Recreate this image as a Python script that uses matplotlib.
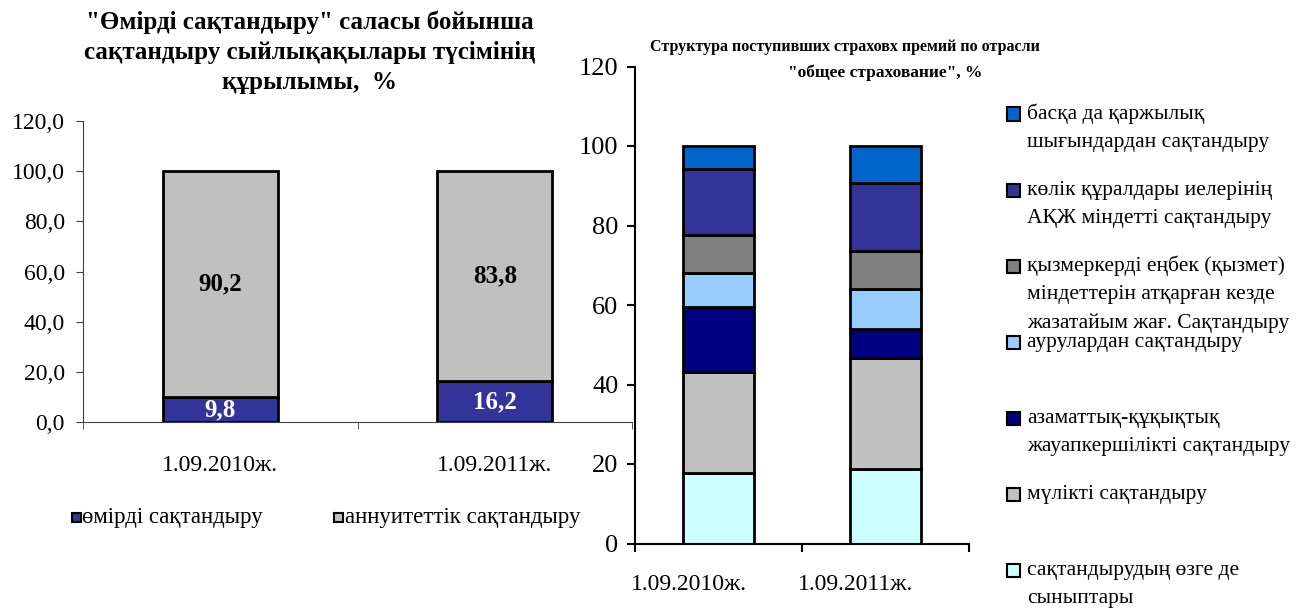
import matplotlib
matplotlib.use("Agg")
import matplotlib.pyplot as plt
from matplotlib.patches import Rectangle
from matplotlib.ticker import FuncFormatter
from matplotlib.transforms import ScaledTranslation
import numpy as np

plt.rcParams['font.family'] = ['Liberation Serif', 'DejaVu Serif']

# данные: левый график
categories = ['1.09.2010ж.', '1.09.2011ж.']
life = [9.8, 16.2]
annuity = [90.2, 83.8]
left_labels = ['өмірді сақтандыру', 'аннуитеттік сақтандыру']

# данные: правый график (снизу вверх)
right_names = [
    'сақтандырудың өзге де\nсыныптары',
    'мүлікті сақтандыру',
    'азаматтық-құқықтық\nжауапкершілікті сақтандыру',
    'аурулардан сақтандыру',
    'қызмеркерді еңбек (қызмет)\nміндеттерін атқарған кезде\nжазатайым жағ. Сақтандыру',
    'көлік құралдары иелерінің\nАҚЖ міндетті сақтандыру',
    'басқа да қаржылық\nшығындардан сақтандыру',
]
ozge = [17.7, 18.7]
mulik = [25.5, 28.0]
azamat = [16.4, 7.3]
aurular = [8.4, 10.0]
kyzmet = [9.6, 9.6]
kolik = [16.6, 17.0]
baska = [5.8, 9.4]
right_values = [ozge, mulik, azamat, aurular, kyzmet, kolik, baska]
right_colors = ['#CCFFFF', '#C0C0C0', '#000080', '#99CCFF', '#808080', '#333399', '#0066CC']

W, H = 1302, 608
fig = plt.figure(figsize=(W / 100, H / 100), dpi=100)


def px_axes(x0, y_top, x1, y_bot):
    return fig.add_axes([x0 / W, 1 - y_bot / H, (x1 - x0) / W, (y_bot - y_top) / H])


x = np.arange(len(categories))
bw = 0.42

# ---- левый график ----
ax1 = px_axes(83, 121, 632, 422)
ax1.bar(x, life, bw, color='#333399', edgecolor='black', linewidth=2)
ax1.bar(x, annuity, bw, bottom=life, color='#C0C0C0', edgecolor='black', linewidth=2)
for i in range(len(x)):
    ax1.text(x[i], life[i] / 2, f'{life[i]:.1f}'.replace('.', ','), ha='center', va='center',
             color='white', fontsize=18, fontweight='bold')
    ax1.text(x[i], life[i] + annuity[i] / 2, f'{annuity[i]:.1f}'.replace('.', ','), ha='center',
             va='center', color='black', fontsize=18, fontweight='bold')
ax1.set_xlim(-0.5, 1.5)
ax1.set_ylim(0, 120)
ax1.set_yticks(np.arange(0, 121, 20))
ax1.yaxis.set_major_formatter(FuncFormatter(lambda v, p: f'{v:.1f}'.replace('.', ',')))
ax1.set_xticks(x)
ax1.set_xticklabels(categories)
ax1.set_xticks([-0.5, 0.5, 1.5], minor=True)
ax1.tick_params(axis='x', which='major', length=0, pad=24, labelsize=17)
ax1.tick_params(axis='x', which='minor', length=5, color='#404040')
ax1.tick_params(axis='y', length=5, pad=8, labelsize=17, color='#404040')
for s in ['top', 'right']:
    ax1.spines[s].set_visible(False)
for s in ['left', 'bottom']:
    ax1.spines[s].set_color('#404040')

fig.text(310 / W, 1 - 52 / H,
         '"Өмірді сақтандыру" саласы бойынша\nсақтандыру сыйлықақылары түсімінің\nқұрылымы,  %',
         ha='center', va='center', fontsize=18, fontweight='bold', linespacing=1.38)

# левая легенда
for (mx, tx, c, lab) in [(72, 82, '#333399', left_labels[0]), (334, 345, '#C0C0C0', left_labels[1])]:
    fig.patches.append(Rectangle((mx / W, 1 - 522 / H), 9 / W, 9 / H, transform=fig.transFigure,
                                 facecolor=c, edgecolor='black', linewidth=1.5))
    fig.text(tx / W, 1 - 517 / H, lab, ha='left', va='center', fontsize=16.5)

# ---- правый график ----
ax2 = px_axes(635, 66.5, 969, 543.5)
bottom = np.zeros(len(categories))
for vals, c in zip(right_values, right_colors):
    ax2.bar(x, vals, bw, bottom=bottom, color=c, edgecolor='black', linewidth=2)
    bottom += np.array(vals)
ax2.set_xlim(-0.5, 1.5)
ax2.set_ylim(0, 120)
ax2.set_yticks(np.arange(0, 121, 20))
ax2.set_xticks(x)
ax2.set_xticklabels(categories)
ax2.set_xticks([-0.5, 0.5, 1.5], minor=True)
ax2.tick_params(axis='x', which='major', length=0, pad=22, labelsize=17)
ax2.tick_params(axis='x', which='minor', length=6, width=1.5)
ax2.tick_params(axis='y', length=6, width=1.5, pad=6, labelsize=19)
for lab in ax2.get_xticklabels():
    lab.set_transform(lab.get_transform() + ScaledTranslation(-0.3, 0, fig.dpi_scale_trans))
for s in ['top', 'right']:
    ax2.spines[s].set_visible(False)
for s in ['left', 'bottom']:
    ax2.spines[s].set_linewidth(1.5)

fig.text(845 / W, 1 - 47 / H, 'Структура поступивших страховх премий по отрасли',
         ha='center', va='center', fontsize=11.5, fontweight='bold')
fig.text(885 / W, 1 - 73 / H, '"общее страхование", %',
         ha='center', va='center', fontsize=12.5, fontweight='bold')

# правая легенда (сверху вниз)
y0 = 114
for k, (name, c) in enumerate(zip(right_names[::-1], right_colors[::-1])):
    ye = y0 + k * 76
    fig.patches.append(Rectangle((1007 / W, 1 - (ye + 6.5) / H), 13 / W, 13 / H,
                                 transform=fig.transFigure, facecolor=c, edgecolor='black',
                                 linewidth=1.5))
    for j, line in enumerate(name.split('\n')):
        fig.text(1027 / W, 1 - (ye + j * 28.5) / H, line, ha='left', va='center', fontsize=15.5)

fig.savefig('out.png', dpi=100)
